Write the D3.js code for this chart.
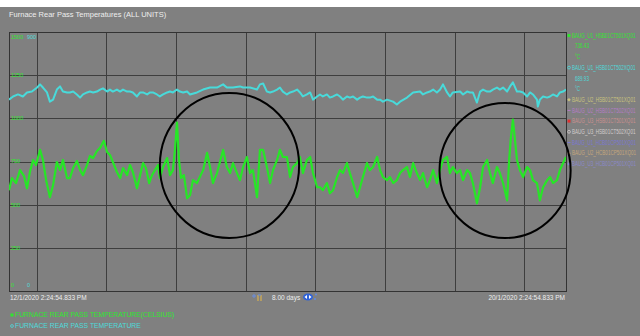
<!DOCTYPE html>
<html><head><meta charset="utf-8">
<script src="https://cdn.jsdelivr.net/npm/d3@7"></script>
<style>html,body{margin:0;padding:0;background:#fff}svg{display:block}</style>
</head><body><svg id="c" width="640" height="336"></svg>
<script>
// ---------- DATA ----------
const startTime = new Date(2020, 0, 12, 14, 24, 54, 833);
const endTime   = new Date(2020, 0, 20, 14, 24, 54, 833);

// Green: FURNACE REAR PASS TEMPERATURE(CELSIUS) — hours from start / °C
const greenHours = [
 0.0,1.0,2.4,3.8,5.2,6.2,7.2,8.3,9.3,10.7,
 11.7,12.8,14.1,15.2,16.5,17.6,18.6,20.0,21.0,22.1,
 23.4,24.5,25.5,26.9,27.9,29.0,30.3,31.4,32.7,33.8,
 34.8,35.8,37.2,38.3,39.3,40.7,41.7,42.7,44.1,45.2,
 46.2,47.2,48.3,49.3,50.3,51.4,52.0,53.1,54.5,55.5,
 56.5,57.2,57.9,58.6,59.3,60.3,61.4,62.4,63.4,64.8,
 66.9,68.3,69.3,70.3,71.7,73.8,75.1,76.2,77.2,78.6,
 79.6,80.7,82.0,83.1,84.1,85.5,86.5,87.6,88.9,90.0,
 91.0,92.4,93.4,94.4,95.8,96.9,97.9,99.3,100.3,101.3,
 102.7,103.8,104.8,106.2,107.2,108.2,109.6,110.6,111.7,113.1,
 114.1,115.1,116.5,117.5,118.6,120.0,121.0,122.0,123.4,124.4,
 125.5,126.9,127.9,128.9,130.3,131.3,132.4,133.7,134.8,135.8,
 137.2,138.2,139.3,140.6,141.7,142.7,144.1,145.1,146.2,147.5,
 148.6,149.6,151.0,152.0,153.0,154.4,155.5,156.5,157.9,158.9,
 159.9,161.3,162.4,163.4,164.8,165.8,166.8,168.2,169.2,170.3,
 171.7,172.4,173.0,173.7,174.4,175.1,176.1,177.2,178.6,179.6,
 180.6,182.0,183.0,184.1,185.5,186.5,187.5,188.9,189.9,191.0,
 192.0];
const greenTemps = [
 584,654,625,700,665,595,689,759,730,817,
 759,642,543,613,747,700,759,654,654,712,
 753,700,671,730,782,770,811,829,870,805,
 788,747,689,654,712,671,730,689,595,671,
 741,712,625,671,700,730,654,718,770,671,
 700,817,975,759,654,671,537,554,642,625,
 700,800,718,625,683,817,718,683,741,683,
 642,718,776,683,700,543,817,817,718,625,
 700,759,817,776,776,660,718,741,776,683,
 759,776,683,601,601,584,625,566,584,660,
 700,683,741,683,625,543,601,660,741,700,
 718,776,700,660,642,660,625,642,683,700,
 718,660,741,683,642,683,601,642,700,625,
 700,759,776,683,718,683,700,642,700,683,
 625,508,601,718,759,683,625,718,683,625,
 525,759,887,992,876,759,700,660,718,700,
 642,625,525,601,642,660,625,642,700,741,
 776];

// Cyan: FURNACE REAR PASS TEMPERATURE — hours from start / °C
const cyanHours = [
 0.0,1.4,3.1,4.8,6.2,7.9,9.7,10.7,11.7,13.1,
 14.1,15.2,16.5,17.6,18.6,20.0,21.0,22.1,23.4,24.5,
 25.5,26.9,27.9,29.0,30.3,31.4,32.4,33.8,34.8,35.8,
 37.2,38.3,39.3,40.7,41.7,42.7,44.1,45.2,46.2,47.6,
 48.6,49.6,51.0,52.0,53.1,54.5,55.5,56.5,57.9,58.9,
 60.0,61.4,62.4,64.8,66.9,69.3,71.7,73.8,75.1,77.2,
 79.6,80.7,83.1,85.5,86.5,87.6,88.9,90.0,91.0,92.4,
 93.4,94.4,95.8,96.9,97.9,99.3,100.3,101.3,102.7,103.8,
 104.8,106.2,107.2,108.2,109.6,110.6,111.7,113.1,114.1,115.1,
 116.5,117.5,118.6,120.0,121.0,122.0,123.4,124.4,125.5,126.9,
 127.9,128.9,130.3,132.4,133.7,134.8,137.2,139.3,141.7,142.7,
 144.1,145.1,146.2,147.5,148.6,149.6,151.0,152.0,153.0,155.5,
 156.5,157.9,158.9,159.9,161.3,162.4,163.4,164.8,165.8,166.8,
 168.2,169.2,170.3,171.7,172.7,173.7,175.1,176.1,177.2,178.6,
 179.6,180.6,182.0,182.3,183.0,184.1,185.5,186.5,187.5,188.9,
 189.9,191.0,192.0];
const cyanTemps = [
 665,676,683,676,690,693,707,718,707,690,
 658,665,700,711,693,690,690,693,683,672,
 683,690,693,690,693,700,704,693,700,693,
 700,693,700,693,693,690,676,690,690,683,
 690,690,683,676,683,690,693,690,700,693,
 690,693,683,690,700,707,707,718,707,707,
 711,707,707,700,718,721,693,690,693,700,
 707,693,683,690,693,700,690,676,683,690,
 665,676,683,676,683,672,676,683,676,665,
 676,672,676,665,672,676,672,672,676,665,
 665,658,665,658,648,658,672,690,693,683,
 690,693,700,690,700,718,690,676,690,693,
 683,693,690,690,655,693,700,693,693,700,
 707,700,707,693,711,725,693,693,690,676,
 690,683,665,641,665,676,672,676,683,676,
 690,693,700];

const greenDomain = [0, 1500];
const cyanDomain = [0, 900];
const greenTicks = [0, 250, 500, 750, 1000, 1250, 1500];
const cyanTickLabels = ["900", "0"];

const legendRight = [
 {text:"BAUG_U1_HSB01CT501XQ01", color:"#2fe62f", marker:"square"},
 {text:"736.43", color:"#2fe62f", marker:null, indent:true},
 {text:"°C", color:"#2fe62f", marker:null, indent:true},
 {text:"BAUG_U1_HSB01CT502XQ01", color:"#4fdada", marker:"circle"},
 {text:"689.93", color:"#4fdada", marker:null, indent:true},
 {text:"°C", color:"#4fdada", marker:null, indent:true},
 {text:"BAUG_U2_HSB01CT501XQ01", color:"#c9c27e", marker:"diamond"},
 {text:"BAUG_U2_HSB01CT502XQ01", color:"#b47cc4", marker:"line"},
 {text:"BAUG_U3_HSB01CT501XQ01", color:"#c98f8f", marker:"redsq"},
 {text:"BAUG_U3_HSB01CT502XQ01", color:"#d2cccc", marker:"circle"},
 {text:"BAUG_U1_HCB01CP501XQ01", color:"#7a78d0", marker:"line"},
 {text:"BAUG_U2_HCB01CP501XQ01", color:"#c4a67c", marker:"diamond"},
 {text:"BAUG_U3_HCB01CP501XQ01", color:"#8a88c8", marker:"diamond"}
];
const legendBottom = [
 {text:"FURNACE REAR PASS TEMPERATURE(CELSIUS)", color:"#2fe62f", marker:"square"},
 {text:"FURNACE REAR PASS TEMPERATURE", color:"#4fdada", marker:"circle"}
];
const titleText = "Furnace Rear Pass Temperatures (ALL UNITS)";
const startLabel = "12/1/2020 2:24:54.833 PM";
const endLabel = "20/1/2020 2:24:54.833 PM";
const spanLabel = "8.00 days";

// hand-drawn annotation circles: centre (hours, °C on green axis), radii (hours, °C)
const annotHours = [76.0, 171.0];
const annotTemps = [727, 698];
const annotRxHours = [24.0, 22.6];
const annotRyTemps = [420, 391];

// ---------- DRAW ----------
const W = 640, H = 336;
const P = {left: 9, right: 566, top: 32, bottom: 291};
const FONT = "'Liberation Sans Narrow','Arial Narrow','Liberation Sans',sans-serif";
const hourMs = 3600e3;
const toDate = h => new Date(startTime.getTime() + h * hourMs);

const svg = d3.select("#c");
svg.append("rect").attr("width", W).attr("height", H).attr("fill", "#808080");
svg.append("rect").attr("width", W).attr("height", 7).attr("fill", "#ffffff");

const x = d3.scaleTime().domain([startTime, endTime]).range([P.left, P.right]);
const yG = d3.scaleLinear().domain(greenDomain).range([P.bottom, P.top]);
const yC = d3.scaleLinear().domain(cyanDomain).range([P.bottom, P.top]);

// gridlines via axes
const gx = svg.append("g").attr("transform", `translate(0,${P.bottom})`)
  .call(d3.axisBottom(x).ticks(d3.timeDay.every(1)).tickSize(-(P.bottom - P.top)).tickFormat(""));
const gy = svg.append("g").attr("transform", `translate(${P.left},0)`)
  .call(d3.axisLeft(yG).tickValues(greenTicks.slice(1, -1)).tickSize(-(P.right - P.left)).tickFormat(""));
[gx, gy].forEach(g => {
  g.select(".domain").remove();
  g.selectAll(".tick line").attr("stroke", "#3e3e3e").attr("stroke-width", 1).attr("shape-rendering", "crispEdges");
});

svg.append("rect").attr("x", P.left).attr("y", P.top)
  .attr("width", P.right - P.left).attr("height", P.bottom - P.top)
  .attr("fill", "none").attr("stroke", "#333").attr("stroke-width", 1).attr("shape-rendering", "crispEdges");

// title
svg.append("text").attr("x", 9).attr("y", 17).text(titleText)
  .attr("font-family", FONT).attr("font-size", 7.5).attr("fill", "#eeeeee");

// left axis labels (inside plot)
svg.append("g").selectAll("text").data(greenTicks).join("text")
  .attr("x", 11)
  .attr("y", d => Math.min(Math.max(yG(d), P.top + 5), P.bottom - 6))
  .attr("dy", "0.35em")
  .text(d => d)
  .attr("font-family", FONT).attr("font-size", 5.5).attr("fill", "#2fe62f");
svg.append("g").selectAll("text").data(cyanDomain.slice().reverse()).join("text")
  .attr("x", 27)
  .attr("y", d => Math.min(Math.max(yC(d), P.top + 5), P.bottom - 6))
  .attr("dy", "0.35em")
  .text((d, i) => cyanTickLabels[i])
  .attr("font-family", FONT).attr("font-size", 5.5).attr("fill", "#4fdada");

// clip
svg.append("clipPath").attr("id", "plotclip").append("rect")
  .attr("x", P.left).attr("y", P.top).attr("width", P.right - P.left).attr("height", P.bottom - P.top);

const cyanData = cyanHours.map((h, i) => ({t: toDate(h), v: cyanTemps[i]}));
const greenData = greenHours.map((h, i) => ({t: toDate(h), v: greenTemps[i]}));

svg.append("path").datum(cyanData).attr("clip-path", "url(#plotclip)")
  .attr("d", d3.line().x(d => x(d.t)).y(d => yC(d.v)))
  .attr("fill", "none").attr("stroke", "#48dada").attr("stroke-width", 2).attr("stroke-linejoin", "round");
svg.append("path").datum(greenData).attr("clip-path", "url(#plotclip)")
  .attr("d", d3.line().x(d => x(d.t)).y(d => yG(d.v)))
  .attr("fill", "none").attr("stroke", "#26e626").attr("stroke-width", 2.2).attr("stroke-linejoin", "round");

// right legend (condensed horizontally so the names fit the panel)
const lg = svg.append("g");
legendRight.forEach((d, i) => {
  const cy = 35.5 + i * 10.7;
  const tx = d.indent ? 575 : 572;
  lg.append("g").attr("transform", `translate(${tx},${cy}) scale(0.7,1)`)
    .append("text").attr("x", 0).attr("y", 0).attr("dy", "0.35em").text(d.text)
    .attr("font-family", FONT).attr("font-size", 6.5).attr("fill", d.color);
  const mx = 569;
  if (d.marker === "square") lg.append("rect").attr("x", mx - 1.5).attr("y", cy - 1.5).attr("width", 3).attr("height", 3).attr("fill", d.color);
  else if (d.marker === "redsq") lg.append("rect").attr("x", mx - 1.5).attr("y", cy - 1.5).attr("width", 3).attr("height", 3).attr("fill", "#e03030");
  else if (d.marker === "circle") lg.append("circle").attr("cx", mx).attr("cy", cy).attr("r", 1.4).attr("fill", "none").attr("stroke", d.color).attr("stroke-width", 0.8);
  else if (d.marker === "diamond") lg.append("path").attr("d", `M${mx},${cy-1.8}L${mx+1.8},${cy}L${mx},${cy+1.8}L${mx-1.8},${cy}Z`).attr("fill", d.color);
  else if (d.marker === "line") lg.append("line").attr("x1", mx - 1.5).attr("x2", mx + 1.5).attr("y1", cy).attr("y2", cy).attr("stroke", d.color);
});

// bottom texts
svg.append("text").attr("x", 10).attr("y", 298).attr("dy", "0.35em").text(startLabel)
  .attr("font-family", FONT).attr("font-size", 6.5).attr("fill", "#eeeeee");
svg.append("text").attr("x", 565).attr("y", 298).attr("dy", "0.35em").attr("text-anchor", "end").text(endLabel)
  .attr("font-family", FONT).attr("font-size", 6.5).attr("fill", "#eeeeee");
svg.append("text").attr("x", 272).attr("y", 298).attr("dy", "0.35em").text(spanLabel)
  .attr("font-family", FONT).attr("font-size", 6.5).attr("fill", "#eeeeee");

// small toolbar icons
const ic = svg.append("g");
ic.append("path").attr("d", "M252,296h4M254,294v4").attr("stroke", "#6a8ee0").attr("stroke-width", 1);
ic.append("path").attr("d", "M258,295v6M261,295v6").attr("stroke", "#d8b050").attr("stroke-width", 1.2);
ic.append("path").attr("d", "M258,295h3").attr("stroke", "#6a8ee0").attr("stroke-width", 1);
ic.append("ellipse").attr("cx", 308).attr("cy", 297).attr("rx", 5).attr("ry", 3.5).attr("fill", "#2f62d8");
ic.append("path").attr("d", "M304.5,297l2.5,-2v4z M311.5,297l-2.5,-2v4z").attr("fill", "#ffffff");
ic.append("circle").attr("cx", 316).attr("cy", 294.5).attr("r", 1).attr("fill", "#5f8ae8");
ic.append("circle").attr("cx", 315).attr("cy", 299).attr("r", 1).attr("fill", "#5f8ae8");

// bottom legend
legendBottom.forEach((d, i) => {
  const cy = 315 + i * 11;
  svg.append("text").attr("x", 15).attr("y", cy).attr("dy", "0.35em").text(d.text)
    .attr("font-family", FONT).attr("font-size", 6.8).attr("fill", d.color);
  if (d.marker === "square") svg.append("rect").attr("x", 10.5).attr("y", cy - 1.5).attr("width", 3).attr("height", 3).attr("fill", d.color);
  else svg.append("circle").attr("cx", 12).attr("cy", cy).attr("r", 1.4).attr("fill", "none").attr("stroke", d.color).attr("stroke-width", 0.8);
});

// annotation circles (drawn in data units)
annotHours.forEach((h, i) => {
  const cx = x(toDate(h));
  const cy = yG(annotTemps[i]);
  const rx = x(toDate(h + annotRxHours[i])) - cx;
  const ry = cy - yG(annotTemps[i] + annotRyTemps[i]);
  svg.append("ellipse").attr("cx", cx).attr("cy", cy).attr("rx", rx).attr("ry", ry)
    .attr("fill", "none").attr("stroke", "#000").attr("stroke-width", 2);
});
</script></body></html>
